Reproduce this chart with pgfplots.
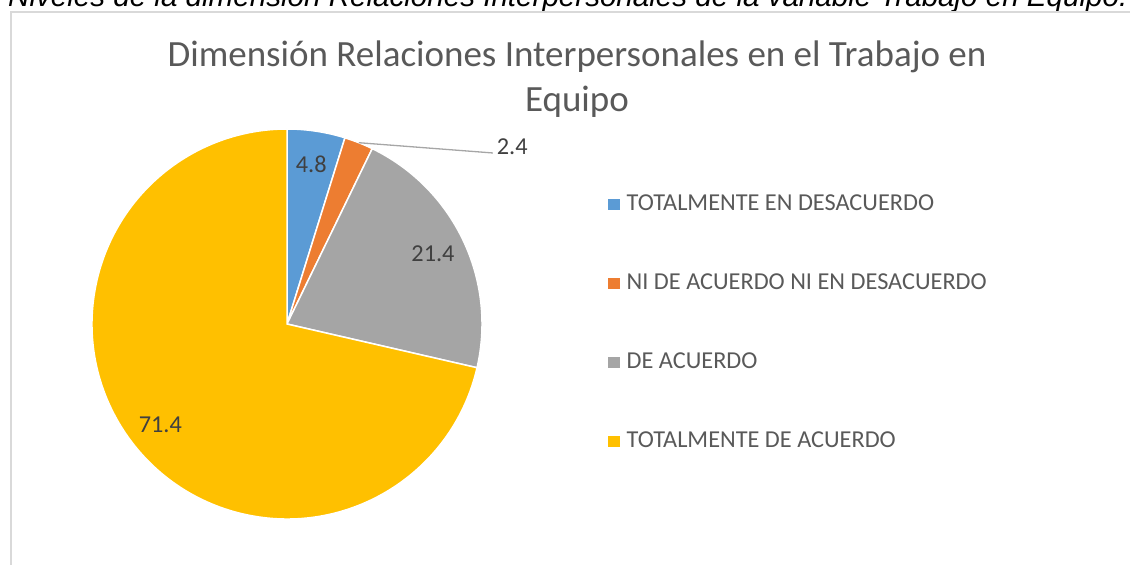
\documentclass[border=0pt]{standalone}
\usepackage{pgfplots}
\pgfplotsset{compat=1.18}
\usepackage{pgfplotstable}
\usepackage{graphicx}
\usepackage{fontspec}
\setmainfont{Carlito}
\newfontfamily\capfont{Liberation Sans}
\definecolor{sliceA}{HTML}{5B9BD5}
\definecolor{sliceB}{HTML}{ED7D31}
\definecolor{sliceC}{HTML}{A5A5A5}
\definecolor{sliceD}{HTML}{FFC000}
\definecolor{textgray}{HTML}{595959}
\definecolor{labelgray}{HTML}{404040}
\definecolor{bordergray}{HTML}{D9D9D9}
\definecolor{leadergray}{HTML}{A6A6A6}

\pgfplotstableread{
v c
4.8 sliceA
2.4 sliceB
21.4 sliceC
71.4 sliceD
}\piedata

\begin{document}
\begin{tikzpicture}[x=1pt,y=1pt]
\useasboundingbox (0,0) rectangle (1130,565);
% caption (clipped at top, as in the reference)
\node[anchor=base west, inner sep=0pt] at (8,558) {\resizebox{1119pt}{!}{\capfont\itshape Niveles de la dimensión Relaciones Interpersonales de la variable Trabajo en Equipo.}};
% chart border
\draw[bordergray, line width=1.3pt] (11,-10) -- (11,553) -- (1140,553);
% title
\node[text=textgray, font=\fontsize{37}{45}\selectfont, anchor=base] at (577,498) {Dimensión Relaciones Interpersonales en el Trabajo en};
\node[text=textgray, font=\fontsize{37}{45}\selectfont, anchor=base] at (577,453) {Equipo};
\begin{axis}[
  at={(287pt,241pt)}, anchor=center,
  width=390pt, height=390pt, scale only axis,
  xmin=-1, xmax=1, ymin=-1, ymax=1,
  hide axis, clip=false,
  legend image code/.code={\fill[#1] (0pt,-5.75pt) rectangle (11.5pt,5.75pt);},
  legend style={draw=none, fill=none, at={(axis cs:1.646,0.667)}, anchor=north west,
    font=\fontsize{24.3}{28}\selectfont, text=textgray, inner sep=0pt,
    row sep=58pt, column sep=0pt,
    nodes={inner sep=0pt, text height=16pt, text depth=5pt},
    /tikz/every odd column/.append style={column sep=7pt}},
  legend cell align=left,
]
\def\cum{90}
\pgfplotsforeachungrouped \i in {0,1,2,3}{%
  \pgfplotstablegetelem{\i}{v}\of\piedata \let\val\pgfplotsretval
  \pgfplotstablegetelem{\i}{c}\of\piedata \let\col\pgfplotsretval
  \pgfmathsetmacro\endang{\cum-3.6*\val}%
  \pgfmathsetmacro\midang{(\cum+\endang)/2}%
  \pgfmathsetmacro\sx{cos(\cum)}%
  \pgfmathsetmacro\sy{sin(\cum)}%
  \pgfmathsetmacro\lx{0.83*cos(\midang)}%
  \pgfmathsetmacro\ly{0.83*sin(\midang)}%
  \pgfmathsetmacro\ex{cos(\midang)}%
  \pgfmathsetmacro\ey{sin(\midang)}%
  \edef\temp{\noexpand\fill[\col, draw=white, line width=1.5pt] (axis cs:0,0) -- (axis cs:\sx,\sy) arc[start angle=\cum, end angle=\endang, radius=195pt] -- cycle;}%
  \temp
  \global\let\cum\endang
  \ifnum\i=1
    \edef\temp{\noexpand\draw[leadergray, line width=1.3pt] (axis cs:\ex,\ey) -- (axis cs:1.056,0.877);
      \noexpand\node[text=labelgray, font=\noexpand\fontsize{24.3}{28}\noexpand\selectfont, anchor=west, inner sep=1pt] at (axis cs:1.07,0.91) {\val};}%
    \temp
  \else
    \edef\temp{\noexpand\node[text=labelgray, font=\noexpand\fontsize{24.3}{28}\noexpand\selectfont] at (axis cs:\lx,\ly) {\val};}%
    \temp
  \fi
}
\addlegendimage{fill=sliceA, draw=none}
\addlegendentry{TOTALMENTE EN DESACUERDO}
\addlegendimage{fill=sliceB, draw=none}
\addlegendentry{NI DE ACUERDO NI EN DESACUERDO}
\addlegendimage{fill=sliceC, draw=none}
\addlegendentry{DE ACUERDO}
\addlegendimage{fill=sliceD, draw=none}
\addlegendentry{TOTALMENTE DE ACUERDO}
\end{axis}
\end{tikzpicture}
\end{document}
